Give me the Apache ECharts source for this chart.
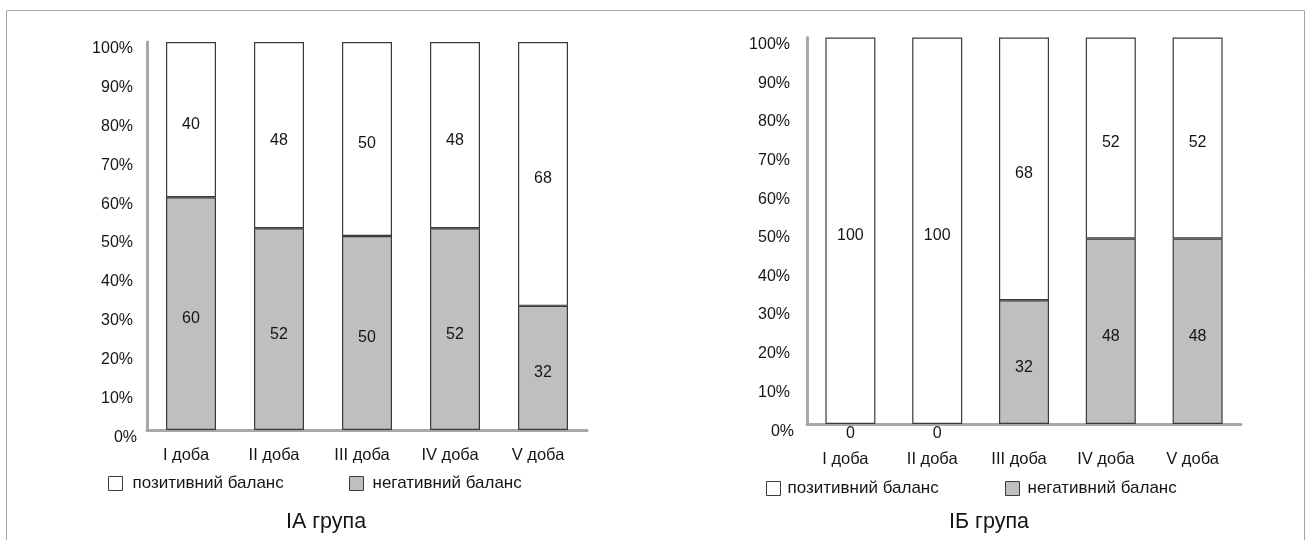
<!DOCTYPE html>
<html>
<head>
<meta charset="utf-8">
<title>Баланс по добах</title>
<script src="https://cdn.jsdelivr.net/npm/echarts@6/dist/echarts.min.js"></script>
<style>
  html, body { margin: 0; padding: 0; background: #fff; }
  #chart { width: 1306px; height: 540px; }
</style>
</head>
<body>
<div id="chart"></div>
<script>
// Categories (days of observation)
const days = ['I доба', 'II доба', 'III доба', 'IV доба', 'V доба'];

// Group IA, % of patients
const iaPositive = [40, 48, 50, 48, 68];
const iaNegative = [60, 52, 50, 52, 32];

// Group IB, % of patients
const ibPositive = [100, 100, 68, 52, 52];
const ibNegative = [0, 0, 32, 48, 48];

// Y-axis ticks
const yMin = 0;
const yMax = 100;
const yStep = 10;

const groupTitles = ['ІА група', 'ІБ група'];
const seriesNames = ['позитивний баланс', 'негативний баланс'];

const FONT = "'Liberation Sans', Arial, Helvetica, sans-serif";
const TEXT = '#151515';
const AXIS = '#a8a8a8';
const EDGE = '#3a3a3a';
const GREY = '#bfbfbf';

function xAxisFor(gridIndex, margin) {
  return {
    type: 'category',
    gridIndex: gridIndex,
    data: days,
    axisLine: { show: true, lineStyle: { color: AXIS, width: 3 } },
    axisTick: { show: false },
    axisLabel: {
      margin: margin,
      fontFamily: FONT, fontSize: 16.5, color: TEXT,
      padding: [0, 10, 0, 0]
    }
  };
}

function yAxisFor(gridIndex, margin) {
  const base = { fontFamily: FONT, fontSize: 16, color: TEXT, lineHeight: 14 };
  return {
    type: 'value',
    gridIndex: gridIndex,
    min: yMin, max: yMax, interval: yStep,
    splitLine: { show: false },
    axisTick: { show: false },
    axisLine: { show: true, lineStyle: { color: AXIS, width: 3 } },
    axisLabel: Object.assign({
      margin: margin,
      verticalAlign: 'top',
      formatter: function (v) { return v === 0 ? '{z|0%}' : '{n|' + v + '%}'; },
      rich: {
        n: Object.assign({ padding: [0, 4, 0, 0] }, base),
        z: Object.assign({ padding: [2, 0, 0, 0] }, base)
      }
    }, base)
  };
}

// zero-height segments carry their label just below the baseline
function withZeroLabels(values) {
  return values.map(function (v) {
    if (v === 0) {
      return {
        value: v,
        itemStyle: { borderWidth: 0 },
        label: { position: 'bottom', distance: 1, offset: [0, 1] }
      };
    }
    return v;
  });
}

function barSeries(name, values, gridIndex, stack, fill) {
  return {
    name: name,
    type: 'bar',
    xAxisIndex: gridIndex,
    yAxisIndex: gridIndex,
    stack: stack,
    barWidth: 50,
    data: withZeroLabels(values),
    itemStyle: { color: fill, borderColor: EDGE, borderWidth: 1.2 },
    label: {
      show: true,
      position: 'inside',
      offset: [0, 5],
      fontFamily: FONT, fontSize: 16, color: TEXT
    },
    emphasis: { disabled: true }
  };
}

function legendFor(name, left, top, fill, textGap) {
  return {
    data: [name],
    left: left, top: top,
    padding: 0,
    icon: 'rect',
    itemWidth: 14, itemHeight: 14,
    selectedMode: false,
    itemStyle: { color: fill, borderColor: EDGE, borderWidth: 1 },
    textStyle: {
      fontFamily: FONT, fontSize: 17, color: TEXT,
      padding: [0, 0, 0, textGap]
    }
  };
}

const chart = echarts.init(document.getElementById('chart'), null, { renderer: 'canvas' });

chart.setOption({
  animation: false,
  backgroundColor: '#ffffff',
  graphic: [{
    type: 'rect',
    silent: true,
    shape: { x: 6.5, y: 10.5, width: 1298, height: 620 },
    style: { fill: 'none', stroke: '#a4a4a4', lineWidth: 1 }
  }],
  title: [
    {
      text: groupTitles[0], left: 321, top: 506, textAlign: 'center',
      textStyle: { fontFamily: FONT, fontSize: 21.5, fontWeight: 'normal', color: TEXT }
    },
    {
      text: groupTitles[1], left: 984, top: 506, textAlign: 'center',
      textStyle: { fontFamily: FONT, fontSize: 21.5, fontWeight: 'normal', color: TEXT }
    }
  ],
  legend: [
    legendFor(seriesNames[0], 108, 475, '#ffffff', 5),
    legendFor(seriesNames[1], 349, 475, GREY, 4),
    legendFor(seriesNames[0], 766, 480, '#ffffff', 2),
    legendFor(seriesNames[1], 1005, 480, GREY, 3)
  ],
  grid: [
    { left: 147, top: 42, width: 440, height: 388 },
    { left: 807, top: 37.5, width: 434, height: 386.5 }
  ],
  xAxis: [xAxisFor(0, 17), xAxisFor(1, 27)],
  yAxis: [yAxisFor(0, 10), yAxisFor(1, 13)],
  series: [
    barSeries(seriesNames[1], iaNegative, 0, 'ia', GREY),
    barSeries(seriesNames[0], iaPositive, 0, 'ia', '#ffffff'),
    barSeries(seriesNames[1], ibNegative, 1, 'ib', GREY),
    barSeries(seriesNames[0], ibPositive, 1, 'ib', '#ffffff')
  ]
});
</script>
</body>
</html>
